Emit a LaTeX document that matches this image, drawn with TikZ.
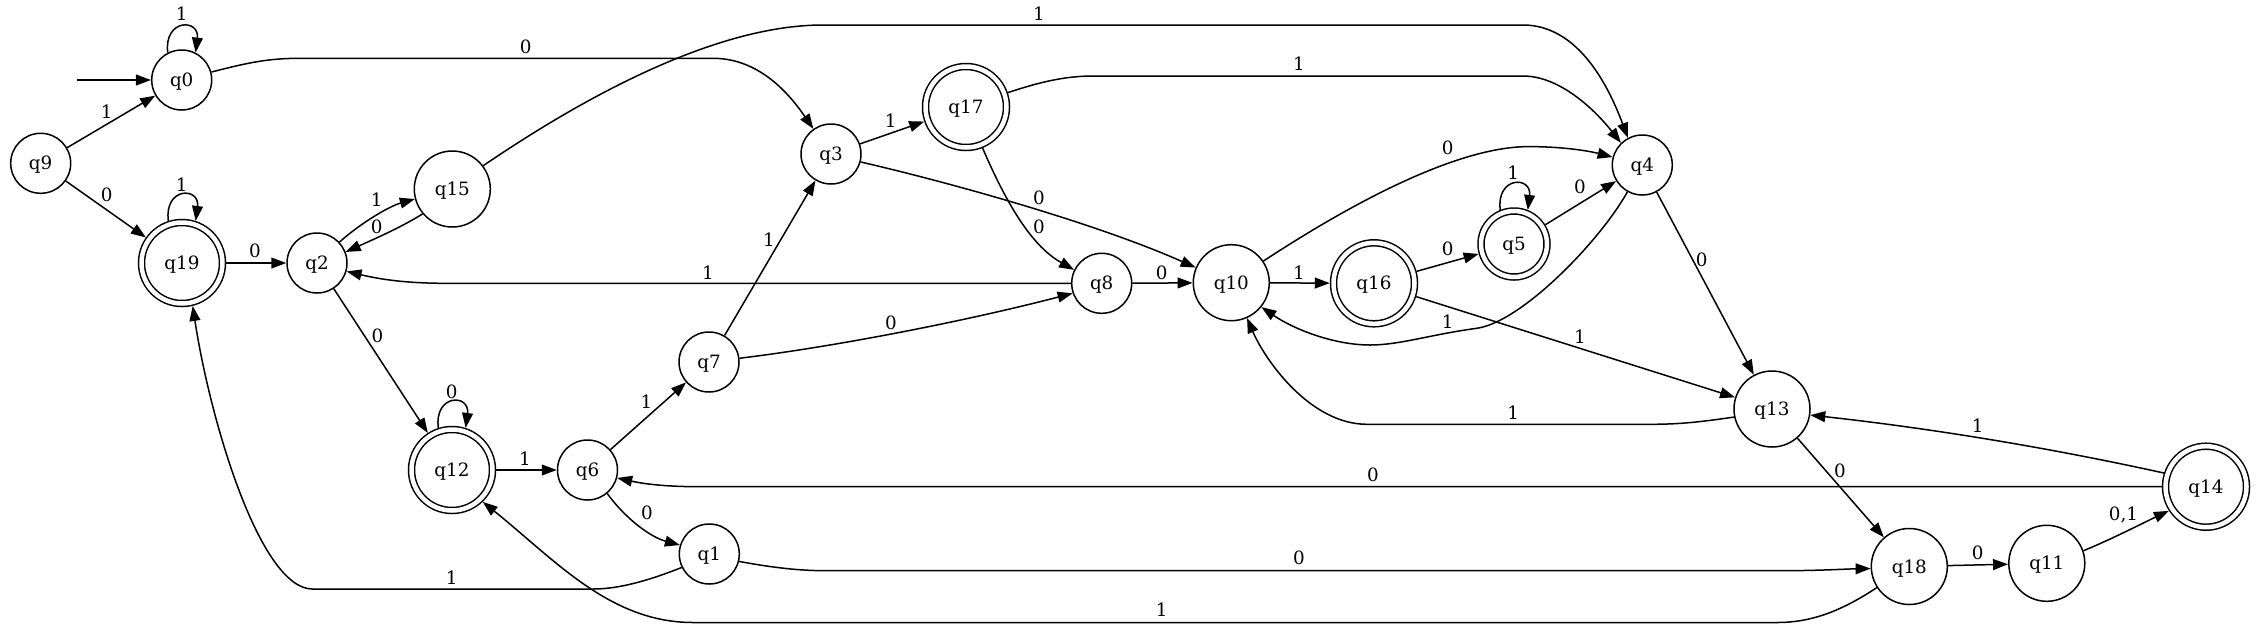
\documentclass[tikz,border=0pt]{standalone}
\usepackage{fontspec}
\setmainfont{DejaVu Serif}
\usetikzlibrary{arrows.meta}
\tikzset{
  base/.style={circle, draw, line width=0.9pt, inner sep=0pt, font=\fontsize{11pt}{13pt}\selectfont, text height=8pt, text depth=0pt},
  st/.style={base, minimum size=36pt, outer sep=0.45pt},
  stw/.style={base, minimum size=45.6pt, outer sep=0.45pt},
  acc/.style={base, double, double distance=2.7pt, minimum size=39.6pt, outer sep=2.25pt},
  accw/.style={base, double, double distance=2.7pt, minimum size=48.6pt, outer sep=2.25pt},
  edge/.style={-{Triangle[length=9pt,width=6.5pt]}, line width=0.9pt},
  lbl/.style={inner sep=0pt, font=\fontsize{11pt}{13pt}\selectfont, text height=8pt, text depth=0pt},
}
\begin{document}
\begin{tikzpicture}[x=0.6pt,y=-0.6pt]
\useasboundingbox (0,0) rectangle (2256,628);
% states
\node[st] (q0) at (181.7,80) {q0};
\node[st] (q9) at (40.7,163.3) {q9};
\node[accw] (q19) at (182,263) {q19};
\node[st] (q2) at (317,263) {q2};
\node[stw] (q15) at (452.3,189) {q15};
\node[st] (q3) at (831,154) {q3};
\node[accw] (q17) at (966,107) {q17};
\node[st] (q7) at (709,362) {q7};
\node[accw] (q12) at (452,470) {q12};
\node[st] (q6) at (587.5,470) {q6};
\node[st] (q1) at (709.3,554) {q1};
\node[st] (q8) at (1101.7,283.3) {q8};
\node[stw] (q10) at (1231.3,282.7) {q10};
\node[accw] (q16) at (1374,283.3) {q16};
\node[acc] (q5) at (1514,244) {q5};
\node[st] (q4) at (1642.3,165) {q4};
\node[stw] (q13) at (1772,409) {q13};
\node[accw] (q14) at (2206,486.7) {q14};
\node[stw] (q18) at (1909.3,566.5) {q18};
\node[stw] (q11) at (2046.8,563.3) {q11};
\coordinate (start) at (77,80);
% transitions
\draw[edge] (start) -- (q0);
\draw[edge] (q0.117) .. controls (163.7,18.5) and (199.7,18.5) .. (q0.63);
\draw[edge] (q9) -- (q0);
\draw[edge] (q9) -- (q19);
\draw[edge] (q19.108) .. controls (164,186.8) and (200,186.8) .. (q19.72);
\draw[edge] (q19) -- (q2);
\draw[edge] (q2.43) .. controls (362,222) and (390,206) .. (q15.195);
\draw[edge] (q15.220) .. controls (400,228) and (372,240) .. (q2.21);
\draw[edge] (q2) -- (q12);
\draw[edge] (q12.108) .. controls (434,393.7) and (470,393.7) .. (q12.72);
\draw[edge] (q12) -- (q6);
\draw[edge] (q6) -- (q7);
\draw[edge] (q6.310) .. controls (625,518) and (650,537) .. (q1.163);
\draw[edge] (q7) -- (q3);
\draw[edge] (q7.7) .. controls (840,346) and (970,320) .. (q8.199);
\draw[edge] (q0.15) .. controls (250,62) and (270,58.3) .. (300,58.3) -- (713,58.3) .. controls (760,58.3) and (790,95) .. (q3.125);
\draw[edge] (q15.37) .. controls (593,91) and (720,25) .. (823,25) -- (1523,25) .. controls (1580,25) and (1610,90) .. (q4.118);
\draw[edge] (q3) -- (q17);
\draw[edge] (q3.345) .. controls (960,185) and (1100,225) .. (q10.157);
\draw[edge] (q17.19) .. controls (1040,82) and (1065,76) .. (1093,76) -- (1523,76) .. controls (1560,76) and (1595,110) .. (q4.134);
\draw[edge] (q17.292) .. controls (1005,200) and (1030,245) .. (q8.154);
\draw[edge] (q8.west) -- (446,283.3) .. controls (400,283.3) and (375,278) .. (q2.344);
\draw[edge] (q8) -- (q10);
\draw[edge] (q10) -- (q16);
\draw[edge] (q10.34) .. controls (1320,224) and (1440,150) .. (1523,146.7) .. controls (1555,146) and (1585,150) .. (q4.165);
\draw[edge] (q16) -- (q5);
\draw[edge] (q5.112) .. controls (1496,175.9) and (1532,175.9) .. (q5.68);
\draw[edge] (q5) -- (q4);
\draw[edge] (q4.241) .. controls (1600,241) and (1521.7,322) .. (1476.7,328.3) .. controls (1430,334.6) and (1400,345) .. (1370,345) .. controls (1335,345) and (1295,330) .. (q10.321);
\draw[edge] (q4) -- (q13);
\draw[edge] (q16) -- (q13);
\draw[edge] (q13.192) .. controls (1700,422) and (1680,424.3) .. (1650,424.3) -- (1367,424.3) .. controls (1310,424.3) and (1265,360) .. (q10.294);
\draw[edge] (q14.162) .. controls (2046,447) and (1928,428) .. (q13.351);
\draw[edge] (q14.west) -- (700,486.7) .. controls (660,486.7) and (640,483) .. (q6.345);
\draw[edge] (q13) -- (q18);
\draw[edge] (q1.346) .. controls (775,568) and (800,570.7) .. (826.7,570.7) -- (1780,570.7) .. controls (1820,570.7) and (1845,569) .. (q18.183);
\draw[edge] (q1.206) .. controls (650,580) and (620,589) .. (593,589) -- (312.5,589) .. controls (260,589) and (210,420) .. (q19.284);
\draw[edge] (q18.213) .. controls (1840,612) and (1810,622.5) .. (1777,622.5) -- (693,622.5) .. controls (610,622.5) and (555,560) .. (q12.314);
\draw[edge] (q18) -- (q11);
\draw[edge] (q11.19) .. controls (2110,540) and (2145,522) .. (q14.213);
% labels
\node[lbl] (l1) at (181.7,14) {1};
\node[lbl] (l2) at (106.7,111.7) {1};
\node[lbl] (l3) at (106.7,195) {0};
\node[lbl] (l4) at (181.7,185) {1};
\node[lbl] (l5) at (255,251) {0};
\node[lbl] (l6) at (376.7,200) {1};
\node[lbl] (l7) at (376.7,226.7) {0};
\node[lbl] (l8) at (377.5,336) {0};
\node[lbl] (l9) at (451.8,391.7) {0};
\node[lbl] (l10) at (525,459.3) {1};
\node[lbl] (l11) at (646.4,401.7) {1};
\node[lbl] (l12) at (647,513.3) {0};
\node[lbl] (l13) at (769,240) {1};
\node[lbl] (l14) at (891,322.7) {0};
\node[lbl] (l15) at (525.7,46.7) {0};
\node[lbl] (l16) at (1039,14) {1};
\node[lbl] (l17) at (890.7,120.7) {1};
\node[lbl] (l18) at (1039,198) {0};
\node[lbl] (l19) at (1299,64) {1};
\node[lbl] (l20) at (1039,227) {0};
\node[lbl] (l21) at (708,272.7) {1};
\node[lbl] (l22) at (1161.7,272.7) {0};
\node[lbl] (l23) at (1299,272.7) {1};
\node[lbl] (l24) at (1447.7,148.3) {0};
\node[lbl] (l25) at (1447.7,249.3) {0};
\node[lbl] (l26) at (1513.3,172.7) {1};
\node[lbl] (l27) at (1580,186.7) {0};
\node[lbl] (l28) at (1447.7,321.7) {1};
\node[lbl] (l29) at (1701.7,260) {0};
\node[lbl] (l30) at (1580,336.7) {1};
\node[lbl] (l31) at (1513.3,413.3) {1};
\node[lbl] (l32) at (1977.7,426) {1};
\node[lbl] (l33) at (1373,475) {0};
\node[lbl] (l34) at (1840,470.7) {0};
\node[lbl] (l35) at (1299,558) {0};
\node[lbl] (l36) at (451.8,578.3) {1};
\node[lbl] (l37) at (1161.7,610) {1};
\node[lbl] (l38) at (1977.7,552.7) {0};
\node[lbl] (l39) at (2123.5,514) {0,1};
\end{tikzpicture}
\end{document}
